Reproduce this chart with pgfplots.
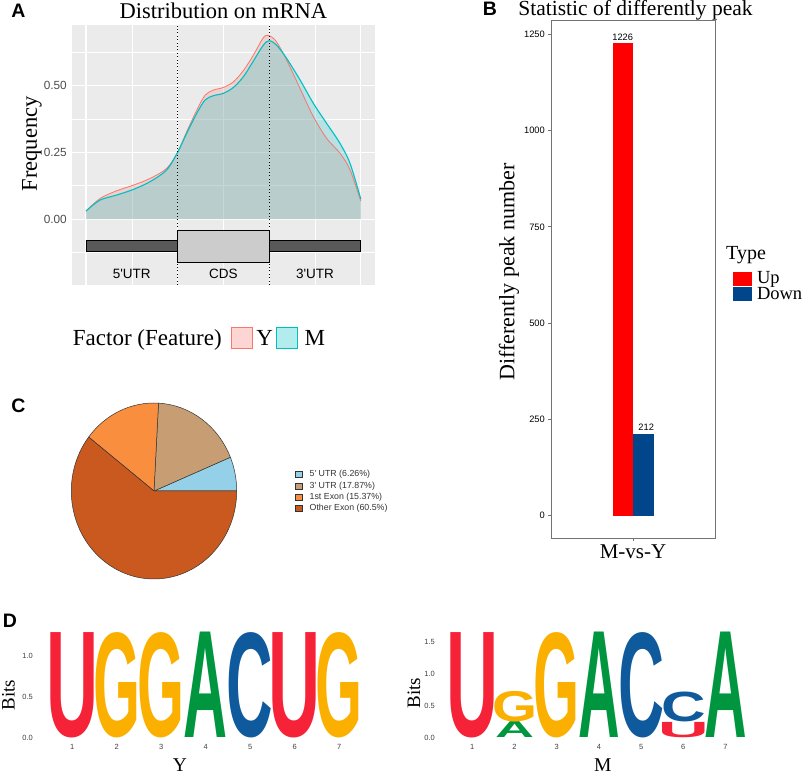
\documentclass[border=0pt]{standalone}
\usepackage{fontspec}
\setmainfont{Liberation Serif}
\setsansfont{Liberation Sans}
\usepackage{graphicx}
\usepackage{pgfplots}
\usepackage{pgfplotstable}
\pgfplotsset{compat=1.18}
\pgfplotsset{/pgf/number format/1000 sep={}}
\tikzset{lg/.style={anchor=south, inner sep=0pt, font=\sffamily\bfseries}}
\newcommand\fs[1]{\fontsize{#1}{#1}\selectfont}
\definecolor{ggred}{HTML}{F8766D}
\definecolor{ggcyan}{HTML}{00BFC4}
\definecolor{ggbg}{HTML}{EBEBEB}
\definecolor{upred}{HTML}{FF0000}
\definecolor{downblue}{HTML}{01458A}
\definecolor{pieblue}{HTML}{94D1E8}
\definecolor{pietan}{HTML}{C79E74}
\definecolor{pieorange}{HTML}{F98F3E}
\definecolor{pierust}{HTML}{C9591E}
\definecolor{lgU}{HTML}{F52238}
\definecolor{lgG}{HTML}{FBB000}
\definecolor{lgA}{HTML}{00963F}
\definecolor{lgC}{HTML}{0F5A9C}

\pgfplotstableread{
x y
0 0.030
0.153 0.077
0.335 0.106
0.517 0.127
0.699 0.152
0.881 0.190
1.0 0.250
1.099 0.327
1.209 0.408
1.30 0.464
1.39 0.483
1.50 0.493
1.609 0.514
1.718 0.556
1.827 0.614
1.937 0.680
2.0 0.687
2.08 0.664
2.19 0.596
2.337 0.489
2.483 0.383
2.628 0.302
2.774 0.246
2.883 0.184
3.0 0.067
}\tabY

\pgfplotstableread{
x y
0 0.030
0.153 0.071
0.335 0.090
0.517 0.111
0.699 0.140
0.881 0.184
1.0 0.250
1.099 0.321
1.209 0.396
1.30 0.446
1.39 0.462
1.50 0.471
1.609 0.493
1.718 0.533
1.827 0.592
1.937 0.652
2.0 0.668
2.08 0.652
2.19 0.602
2.337 0.521
2.483 0.433
2.628 0.358
2.774 0.283
2.883 0.208
3.0 0.075
}\tabM

\begin{document}
\begin{tikzpicture}[x=1pt,y=1pt]
\useasboundingbox (0,0) rectangle (803,775);

% ---------------- Panel A ----------------
\node[font=\sffamily\bfseries\fs{19.5}] at (18.3,763.8) {A};
\node[font=\fs{22.5}, anchor=base] at (223.3,756.5) {Distribution on mRNA};
\node[rotate=90, font=\fs{22.5}] at (32,631) {Frequency};
\begin{axis}[at={(72pt,490pt)}, anchor=south west, scale only axis,
  width=303pt, height=260pt,
  xmin=-0.153, xmax=3.155, ymin=-0.247, ymax=0.727,
  axis background/.style={fill=ggbg},
  axis line style={draw=none},
  xtick={0,1,2,3}, xticklabels={}, minor xtick={0.5,1.5,2.5},
  ytick={0,0.25,0.5}, yticklabels={0.00,0.25,0.50},
  minor ytick={-0.125,0.125,0.375,0.625},
  grid=both,
  major grid style={white, line width=1.1pt},
  minor grid style={white, line width=0.55pt},
  major tick length=0pt, minor tick length=0pt,
  yticklabel style={font=\sffamily\fs{11.8}, text=black!70, anchor=east, inner sep=0pt, xshift=-5pt},
  clip=false]
\addplot[draw=none, fill=ggred, fill opacity=0.22, smooth] table {\tabY} \closedcycle;
\addplot[draw=none, fill=ggcyan, fill opacity=0.22, smooth] table {\tabM} \closedcycle;
\addplot[ggred, line width=0.8pt, smooth] table {\tabY};
\addplot[ggcyan, line width=1.1pt, smooth] table {\tabM};
\addplot[fill=black!65, draw=black, line width=0.8pt] coordinates {(0,-0.080) (3,-0.080) (3,-0.121) (0,-0.121)} -- cycle;
\addplot[fill=black!20, draw=black, line width=0.8pt] coordinates {(1,-0.041) (2,-0.041) (2,-0.162) (1,-0.162)} -- cycle;
\addplot[black, line width=0.9pt, dash pattern=on 1pt off 2.4pt] coordinates {(1,-0.247) (1,0.727)};
\addplot[black, line width=0.9pt, dash pattern=on 1pt off 2.4pt] coordinates {(2,-0.247) (2,0.727)};
\node[font=\sffamily\fs{13.5}] at (axis cs:0.5,-0.206) {5\textquotesingle UTR};
\node[font=\sffamily\fs{13.5}] at (axis cs:1.5,-0.206) {CDS};
\node[font=\sffamily\fs{13.5}] at (axis cs:2.5,-0.206) {3\textquotesingle UTR};
\end{axis}
\node[font=\fs{23}, anchor=base west, inner sep=0pt] at (72.7,429.3) {Factor (Feature)};
\draw[ggred, fill=ggred!30, line width=0.9pt] (231.7,447.7) rectangle (252.3,426.7);
\node[font=\fs{23}, anchor=base west, inner sep=0pt] at (256.2,429.3) {Y};
\draw[ggcyan, fill=ggcyan!30, line width=0.9pt] (276.7,447.7) rectangle (297.3,426.7);
\node[font=\fs{23}, anchor=base west, inner sep=0pt] at (304.5,429.3) {M};

% ---------------- Panel B ----------------
\node[font=\sffamily\bfseries\fs{19.5}] at (490,765.8) {B};
\node[font=\fs{21.5}, anchor=base] at (635.5,759) {Statistic of differently peak};
\node[rotate=90, font=\fs{22}] at (509,503) {Differently peak number};
\begin{axis}[at={(551pt,237pt)}, anchor=south west, scale only axis,
  width=164pt, height=518pt,
  xmin=-4, xmax=4, ymin=-58, ymax=1287,
  axis line style={black!55, line width=0.8pt},
  tick align=outside, tick pos=left, major tick length=3pt,
  tick style={black!55, line width=0.8pt},
  xtick={0}, xticklabels={M-vs-Y},
  xticklabel style={font=\fs{21}, inner sep=0pt, yshift=-4pt},
  ytick={0,250,500,750,1000,1250},
  yticklabel style={font=\sffamily\fs{9.3}, inner sep=0pt, xshift=-3pt},
  /pgf/number format/assume math mode=true,
  clip=false]
\addplot[ybar, bar width=1, bar shift=0pt, fill=upred, draw=none,
  nodes near coords, every node near coord/.append style={font=\sffamily\fs{9.3}, anchor=south, inner sep=0pt, yshift=3pt}]
  coordinates {(-0.5,1226)};
\addplot[ybar, bar width=1, bar shift=0pt, fill=downblue, draw=none,
  nodes near coords, every node near coord/.append style={font=\sffamily\fs{9.3}, anchor=south, inner sep=0pt, yshift=3pt, xshift=3pt}]
  coordinates {(0.5,212)};
\end{axis}
\node[font=\fs{20}, anchor=base west, inner sep=0pt] at (726,515) {Type};
\fill[upred] (733.3,503.3) rectangle (751.7,489.3);
\fill[downblue] (733.3,487.5) rectangle (751.7,474);
\node[font=\fs{18.5}, anchor=base west, inner sep=0pt] at (756.8,491) {Up};
\node[font=\fs{18.5}, anchor=base west, inner sep=0pt] at (756.8,475.5) {Down};

% ---------------- Panel C ----------------
\node[font=\sffamily\bfseries\fs{19.5}] at (18.3,369.2) {C};
\begin{axis}[at={(154pt,284pt)}, anchor=center, scale only axis,
  width=165.4pt, height=176pt, xmin=-1, xmax=1, ymin=-1, ymax=1,
  hide axis, clip=false]
\filldraw[fill=pieblue, draw=black!80, line width=0.5pt] (axis cs:0,0) -- +(0:82.7pt and 88pt) arc[start angle=0, end angle=22.54, x radius=82.7pt, y radius=88pt] -- cycle;
\filldraw[fill=pietan, draw=black!80, line width=0.5pt] (axis cs:0,0) -- +(22.54:82.7pt and 88pt) arc[start angle=22.54, end angle=86.87, x radius=82.7pt, y radius=88pt] -- cycle;
\filldraw[fill=pieorange, draw=black!80, line width=0.5pt] (axis cs:0,0) -- +(86.87:82.7pt and 88pt) arc[start angle=86.87, end angle=142.2, x radius=82.7pt, y radius=88pt] -- cycle;
\filldraw[fill=pierust, draw=black!80, line width=0.5pt] (axis cs:0,0) -- +(142.2:82.7pt and 88pt) arc[start angle=142.2, end angle=360, x radius=82.7pt, y radius=88pt] -- cycle;
\end{axis}
\filldraw[fill=pieblue, draw=black!80, line width=0.4pt] (295,303.8) rectangle (301.7,297.6);
\filldraw[fill=pietan, draw=black!80, line width=0.4pt] (295,292.1) rectangle (301.7,285.9);
\filldraw[fill=pieorange, draw=black!80, line width=0.4pt] (295,281.1) rectangle (301.7,274.9);
\filldraw[fill=pierust, draw=black!80, line width=0.4pt] (295,269.8) rectangle (301.7,263.6);
\node[font=\sffamily\fs{8.8}, text=black!80, anchor=west, inner sep=0pt] at (309.5,300.7) {5\textquotesingle{} UTR (6.26\%)};
\node[font=\sffamily\fs{8.8}, text=black!80, anchor=west, inner sep=0pt] at (309.5,289.0) {3\textquotesingle{} UTR (17.87\%)};
\node[font=\sffamily\fs{8.8}, text=black!80, anchor=west, inner sep=0pt] at (309.5,278.0) {1st Exon (15.37\%)};
\node[font=\sffamily\fs{8.8}, text=black!80, anchor=west, inner sep=0pt] at (309.5,266.7) {Other Exon (60.5\%)};

% ---------------- Panel D ----------------
\node[font=\sffamily\bfseries\fs{19.5}] at (10,154.7) {D};
\node[rotate=90, font=\fs{19}] at (8.5,80) {Bits};
\node[font=\fs{19.5}] at (180,10) {Y};
\begin{axis}[at={(36pt,37.3pt)}, anchor=south west, scale only axis,
  width=325.5pt, height=106.6pt,
  xmin=0.185, xmax=7.5, ymin=0, ymax=1.3,
  axis line style={draw=none},
  xtick={1,2,3,4,5,6,7}, ytick={0,0.5,1}, yticklabels={0.0,0.5,1.0},
  major tick length=0pt, tick style={draw=none},
  ticklabel style={font=\sffamily\fs{7.5}, text=black!75, inner sep=0pt},
  yticklabel style={anchor=east, xshift=-3pt},
  xticklabel style={anchor=north, yshift=-6.3pt},
  /pgf/number format/assume math mode=true,
  clip=false]
\addplot[draw=none] coordinates {(1,0) (7,0)};
\node[lg, text=lgU] at (axis cs:1,0) {\resizebox*{52pt}{105.4pt}{U}};
\node[lg, text=lgG] at (axis cs:2,0) {\resizebox*{47pt}{105.4pt}{G}};
\node[lg, text=lgG] at (axis cs:3,0) {\resizebox*{47pt}{105.4pt}{G}};
\node[lg, text=lgA] at (axis cs:4,0) {\resizebox*{44pt}{105.4pt}{A}};
\node[lg, text=lgC] at (axis cs:5,0) {\resizebox*{46.5pt}{105.4pt}{C}};
\node[lg, text=lgU] at (axis cs:6,0) {\resizebox*{52pt}{105.4pt}{U}};
\node[lg, text=lgG] at (axis cs:7,0) {\resizebox*{47pt}{105.4pt}{G}};
\end{axis}

\node[rotate=90, font=\fs{19}] at (414,82) {Bits};
\node[font=\fs{19.5}] at (602.8,9.8) {M};
\begin{axis}[at={(438pt,37.3pt)}, anchor=south west, scale only axis,
  width=308.6pt, height=108.1pt,
  xmin=0.187, xmax=7.5, ymin=0, ymax=1.7,
  axis line style={draw=none},
  xtick={1,2,3,4,5,6,7}, ytick={0,0.5,1,1.5}, yticklabels={0.0,0.5,1.0,1.5},
  major tick length=0pt, tick style={draw=none},
  ticklabel style={font=\sffamily\fs{7.5}, text=black!75, inner sep=0pt},
  yticklabel style={anchor=east, xshift=-3pt},
  xticklabel style={anchor=north, yshift=-6.3pt},
  /pgf/number format/assume math mode=true,
  clip=false]
\addplot[draw=none] coordinates {(1,0) (7,0)};
\node[lg, text=lgU] at (axis cs:1,0) {\resizebox*{52pt}{105.4pt}{U}};
\node[lg, text=lgA] at (axis cs:2,0) {\resizebox*{39pt}{15.9pt}{A}};
\node[lg, text=lgG] at (axis cs:2,0.25) {\resizebox*{45pt}{30.5pt}{G}};
\node[lg, text=lgG] at (axis cs:3,0) {\resizebox*{46pt}{105.4pt}{G}};
\node[lg, text=lgA] at (axis cs:4,0) {\resizebox*{41.5pt}{105.4pt}{A}};
\node[lg, text=lgC] at (axis cs:5,0) {\resizebox*{46pt}{105.4pt}{C}};
\node[lg, text=lgU] at (axis cs:6,0) {\resizebox*{51pt}{15.3pt}{U}};
\node[lg, text=lgC] at (axis cs:6,0.24) {\resizebox*{44.5pt}{29.9pt}{C}};
\node[lg, text=lgA] at (axis cs:7,0) {\resizebox*{42.5pt}{105.4pt}{A}};
\end{axis}
\end{tikzpicture}
\end{document}
